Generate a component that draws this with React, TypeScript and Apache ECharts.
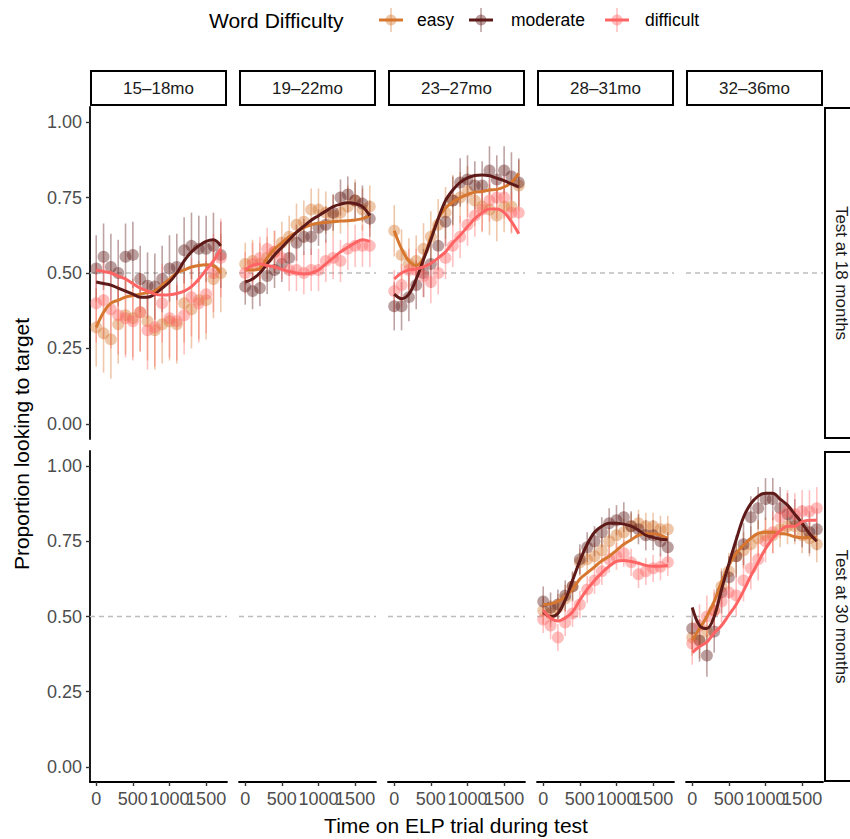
import React, { useEffect, useRef } from 'react';
import * as echarts from 'echarts';

// ---------- data ----------
const TIMES = [0, 100, 200, 300, 400, 500, 600, 700, 800, 900, 1000, 1100, 1200, 1300, 1400, 1500, 1600, 1700];
const AGE_BINS = ['15–18mo', '19–22mo', '23–27mo', '28–31mo', '32–36mo'];
const TESTS = ['Test at 18 months', 'Test at 30 months'];
const DIFFICULTIES = ['easy', 'moderate', 'difficult'];
const Y_TICKS = [0, 0.25, 0.5, 0.75, 1];
const X_TICKS = [0, 500, 1000, 1500];
const CHANCE = 0.5;

// Test at 18 months, 15–18mo
const EASY_15_18 = [0.32, 0.30, 0.28, 0.33, 0.36, 0.35, 0.37, 0.34, 0.31, 0.33, 0.34, 0.33, 0.40, 0.38, 0.41, 0.41, 0.48, 0.50];
const MOD_15_18 = [0.515, 0.554, 0.52, 0.50, 0.554, 0.56, 0.48, 0.458, 0.455, 0.48, 0.515, 0.52, 0.575, 0.59, 0.58, 0.58, 0.59, 0.56];
const DIFF_15_18 = [0.40, 0.41, 0.38, 0.36, 0.35, 0.34, 0.37, 0.31, 0.32, 0.40, 0.35, 0.34, 0.36, 0.42, 0.40, 0.43, 0.50, 0.55];
const EASY_FIT_15_18 = [0.32, 0.37, 0.40, 0.41, 0.42, 0.425, 0.43, 0.435, 0.44, 0.46, 0.48, 0.50, 0.51, 0.52, 0.525, 0.527, 0.525, 0.50];
const MOD_FIT_15_18 = [0.47, 0.465, 0.46, 0.45, 0.44, 0.43, 0.42, 0.42, 0.43, 0.45, 0.47, 0.50, 0.54, 0.57, 0.59, 0.605, 0.61, 0.59];
const DIFF_FIT_15_18 = [0.51, 0.505, 0.50, 0.49, 0.48, 0.465, 0.45, 0.44, 0.43, 0.427, 0.428, 0.432, 0.44, 0.455, 0.48, 0.51, 0.54, 0.58];
const SE_15_18 = [0.13, 0.11, 0.13];

// Test at 18 months, 19–22mo
const EASY_19_22 = [0.53, 0.54, 0.53, 0.55, 0.57, 0.60, 0.62, 0.66, 0.67, 0.71, 0.71, 0.70, 0.69, 0.70, 0.72, 0.74, 0.71, 0.72];
const MOD_19_22 = [0.455, 0.44, 0.45, 0.49, 0.51, 0.53, 0.55, 0.60, 0.62, 0.62, 0.65, 0.66, 0.70, 0.75, 0.76, 0.74, 0.73, 0.68];
const DIFF_19_22 = [0.50, 0.53, 0.55, 0.58, 0.57, 0.55, 0.51, 0.51, 0.50, 0.51, 0.51, 0.54, 0.55, 0.54, 0.58, 0.59, 0.59, 0.59];
const EASY_FIT_19_22 = [0.51, 0.51, 0.515, 0.55, 0.58, 0.60, 0.62, 0.635, 0.65, 0.66, 0.665, 0.668, 0.67, 0.672, 0.673, 0.676, 0.68, 0.69];
const MOD_FIT_19_22 = [0.47, 0.48, 0.50, 0.53, 0.56, 0.585, 0.61, 0.635, 0.655, 0.675, 0.69, 0.705, 0.72, 0.728, 0.733, 0.73, 0.72, 0.69];
const DIFF_FIT_19_22 = [0.51, 0.525, 0.53, 0.525, 0.52, 0.512, 0.505, 0.50, 0.497, 0.50, 0.51, 0.53, 0.55, 0.57, 0.585, 0.60, 0.61, 0.605];
const SE_19_22 = [0.07, 0.06, 0.07];

// Test at 18 months, 23–27mo
const EASY_23_27 = [0.64, 0.56, 0.53, 0.54, 0.58, 0.62, 0.66, 0.70, 0.74, 0.75, 0.77, 0.74, 0.72, 0.71, 0.69, 0.72, 0.72, 0.79];
const MOD_23_27 = [0.39, 0.39, 0.42, 0.46, 0.50, 0.53, 0.59, 0.67, 0.74, 0.80, 0.81, 0.79, 0.79, 0.84, 0.81, 0.84, 0.82, 0.80];
const DIFF_23_27 = [0.44, 0.46, 0.51, 0.51, 0.49, 0.47, 0.50, 0.55, 0.59, 0.62, 0.66, 0.69, 0.71, 0.74, 0.75, 0.75, 0.70, 0.70];
const EASY_FIT_23_27 = [0.64, 0.58, 0.54, 0.525, 0.55, 0.62, 0.68, 0.715, 0.735, 0.75, 0.76, 0.768, 0.77, 0.775, 0.777, 0.785, 0.80, 0.83];
const MOD_FIT_23_27 = [0.43, 0.415, 0.43, 0.48, 0.545, 0.61, 0.68, 0.74, 0.775, 0.80, 0.815, 0.823, 0.825, 0.822, 0.814, 0.806, 0.795, 0.785];
const DIFF_FIT_23_27 = [0.48, 0.50, 0.51, 0.513, 0.52, 0.532, 0.55, 0.57, 0.60, 0.625, 0.653, 0.68, 0.70, 0.712, 0.712, 0.70, 0.67, 0.63];
const SE_23_27 = [0.085, 0.08, 0.07];

// Test at 30 months, 28–31mo
const EASY_28_31 = [0.52, 0.51, 0.53, 0.56, 0.60, 0.68, 0.69, 0.70, 0.72, 0.75, 0.77, 0.78, 0.80, 0.81, 0.80, 0.80, 0.79, 0.79];
const MOD_28_31 = [0.55, 0.53, 0.54, 0.57, 0.60, 0.69, 0.73, 0.75, 0.78, 0.81, 0.82, 0.83, 0.80, 0.79, 0.77, 0.77, 0.75, 0.73];
const DIFF_28_31 = [0.49, 0.47, 0.43, 0.48, 0.51, 0.54, 0.59, 0.62, 0.65, 0.69, 0.70, 0.71, 0.68, 0.64, 0.65, 0.66, 0.665, 0.68];
const EASY_FIT_28_31 = [0.54, 0.542, 0.55, 0.565, 0.59, 0.625, 0.645, 0.665, 0.685, 0.70, 0.72, 0.74, 0.755, 0.77, 0.775, 0.775, 0.77, 0.76];
const MOD_FIT_28_31 = [0.515, 0.50, 0.51, 0.555, 0.62, 0.685, 0.74, 0.78, 0.80, 0.81, 0.81, 0.807, 0.80, 0.787, 0.77, 0.763, 0.757, 0.755];
const DIFF_FIT_28_31 = [0.52, 0.495, 0.485, 0.495, 0.515, 0.555, 0.59, 0.62, 0.645, 0.667, 0.683, 0.686, 0.683, 0.677, 0.67, 0.667, 0.667, 0.67];
const SE_28_31 = [0.045, 0.05, 0.045];

// Test at 30 months, 32–36mo
const EASY_32_36 = [0.43, 0.42, 0.45, 0.52, 0.60, 0.65, 0.70, 0.72, 0.74, 0.76, 0.77, 0.77, 0.79, 0.80, 0.80, 0.77, 0.76, 0.74];
const MOD_32_36 = [0.46, 0.42, 0.37, 0.45, 0.58, 0.63, 0.70, 0.74, 0.83, 0.86, 0.89, 0.89, 0.86, 0.84, 0.82, 0.80, 0.78, 0.79];
const DIFF_32_36 = [0.41, 0.47, 0.50, 0.52, 0.55, 0.58, 0.57, 0.62, 0.66, 0.69, 0.75, 0.78, 0.83, 0.85, 0.84, 0.85, 0.85, 0.86];
const EASY_FIT_32_36 = [0.42, 0.46, 0.50, 0.55, 0.615, 0.67, 0.71, 0.737, 0.76, 0.776, 0.78, 0.78, 0.776, 0.773, 0.765, 0.762, 0.762, 0.765];
const MOD_FIT_32_36 = [0.53, 0.47, 0.46, 0.50, 0.59, 0.675, 0.755, 0.83, 0.875, 0.90, 0.91, 0.91, 0.89, 0.87, 0.84, 0.81, 0.776, 0.75];
const DIFF_FIT_32_36 = [0.38, 0.40, 0.415, 0.445, 0.47, 0.505, 0.54, 0.585, 0.635, 0.68, 0.725, 0.76, 0.785, 0.80, 0.80, 0.815, 0.82, 0.82];
const SE_32_36 = [0.06, 0.07, 0.07];

const PANELS = [
  { row: 0, col: 0, points: [EASY_15_18, MOD_15_18, DIFF_15_18], fits: [EASY_FIT_15_18, MOD_FIT_15_18, DIFF_FIT_15_18], se: SE_15_18 },
  { row: 0, col: 1, points: [EASY_19_22, MOD_19_22, DIFF_19_22], fits: [EASY_FIT_19_22, MOD_FIT_19_22, DIFF_FIT_19_22], se: SE_19_22 },
  { row: 0, col: 2, points: [EASY_23_27, MOD_23_27, DIFF_23_27], fits: [EASY_FIT_23_27, MOD_FIT_23_27, DIFF_FIT_23_27], se: SE_23_27 },
  { row: 1, col: 3, points: [EASY_28_31, MOD_28_31, DIFF_28_31], fits: [EASY_FIT_28_31, MOD_FIT_28_31, DIFF_FIT_28_31], se: SE_28_31 },
  { row: 1, col: 4, points: [EASY_32_36, MOD_32_36, DIFF_32_36], fits: [EASY_FIT_32_36, MOD_FIT_32_36, DIFF_FIT_32_36], se: SE_32_36 },
];

// ---------- style / layout ----------
const COLORS = ['#D6762F', '#5E1A18', '#FF6464'];
const FONT = '"Liberation Sans", Arial, Helvetica, sans-serif';
const X_MIN = -85;
const X_MAX = 1785;
const Y_MIN = -0.05;
const Y_MAX = 1.05;
const GRID_LEFT0 = 90;
const COL_STEP = 149;
const GRID_W = 137;
const ROW_TOPS = [107, 451];
const ROW_H = [332, 331];

export default function App() {
  const ref = useRef<HTMLDivElement>(null);

  useEffect(() => {
    const chart = echarts.init(ref.current!, null, { renderer: 'svg' });
    const grids: any[] = [];
    const xAxes: any[] = [];
    const yAxes: any[] = [];
    const series: any[] = [];

    for (let r = 0; r < 2; r++) {
      for (let c = 0; c < 5; c++) {
        const gi = r * 5 + c;
        const bottomRow = r === 1;
        const firstCol = c === 0;
        grids.push({ left: GRID_LEFT0 + c * COL_STEP, top: ROW_TOPS[r], width: GRID_W, height: ROW_H[r], containLabel: false });
        xAxes.push({
          type: 'value', gridIndex: gi, min: X_MIN, max: X_MAX,
          axisLine: { show: bottomRow, onZero: false, lineStyle: { color: '#000', width: 1.8 } },
          axisTick: { show: bottomRow, length: 4, customValues: X_TICKS, lineStyle: { color: '#333', width: 1.4 } },
          axisLabel: { show: false },
          splitLine: { show: false },
        });
        yAxes.push({
          type: 'value', gridIndex: gi, min: Y_MIN, max: Y_MAX,
          axisLine: { show: firstCol, onZero: false, lineStyle: { color: '#000', width: 1.8 } },
          axisTick: { show: firstCol, length: 4, customValues: Y_TICKS, lineStyle: { color: '#333', width: 1.4 } },
          axisLabel: { show: firstCol, customValues: Y_TICKS, color: '#4D4D4D', fontSize: 18, margin: 8, fontFamily: FONT, formatter: (v: number) => v.toFixed(2) },
          splitLine: { show: false },
        });
        series.push({
          type: 'line', xAxisIndex: gi, yAxisIndex: gi, silent: true, z: 1,
          data: [[X_MIN, CHANCE], [X_MAX, CHANCE]], symbol: 'none',
          lineStyle: { color: '#BDBDBD', width: 1.3, type: [5, 4] },
        });
      }
    }

    PANELS.forEach((p) => {
      const gi = p.row * 5 + p.col;
      p.points.forEach((vals, k) => {
        const color = COLORS[k];
        const se = p.se[k];
        series.push({
          type: 'custom', xAxisIndex: gi, yAxisIndex: gi, z: 2, silent: true,
          data: TIMES.map((t, i) => [t, vals[i], vals[i] - se, vals[i] + se]),
          encode: { x: 0, y: 1 },
          renderItem: (params: any, api: any) => {
            const t = api.value(0);
            const a = api.coord([t, api.value(2)]);
            const b = api.coord([t, api.value(3)]);
            return {
              type: 'line',
              shape: { x1: a[0], y1: a[1], x2: b[0], y2: b[1] },
              style: { stroke: color, lineWidth: 1.6, opacity: 0.4 },
            };
          },
        });
        series.push({
          type: 'scatter', xAxisIndex: gi, yAxisIndex: gi, z: 2, silent: true,
          data: TIMES.map((t, i) => [t, vals[i]]),
          symbol: 'circle', symbolSize: 12,
          itemStyle: { color, opacity: 0.42 },
        });
      });
      p.fits.forEach((vals, k) => {
        series.push({
          type: 'line', xAxisIndex: gi, yAxisIndex: gi, z: 3, silent: true,
          data: TIMES.map((t, i) => [t, vals[i]]),
          symbol: 'none', smooth: 0.35,
          lineStyle: { color: COLORS[k], width: 3 },
        });
      });
    });

    chart.setOption({
      animation: false,
      backgroundColor: '#fff',
      grid: grids,
      xAxis: xAxes,
      yAxis: yAxes,
      series,
    });

    const graphics: any[] = [];
    // x tick labels placed through the axes' own scales
    for (let c = 0; c < 5; c++) {
      const gi = 5 + c;
      const yPix = chart.convertToPixel({ yAxisIndex: gi } as any, Y_MIN) as number;
      X_TICKS.forEach((v) => {
        const xPix = chart.convertToPixel({ xAxisIndex: gi } as any, v) as number;
        graphics.push({ type: 'text', x: xPix, y: yPix + 8, style: { text: String(v), fill: '#4D4D4D', font: `18px ${FONT}`, textAlign: 'center', textVerticalAlign: 'top' } });
      });
    }
    AGE_BINS.forEach((lab, c) => {
      const x = GRID_LEFT0 + c * COL_STEP;
      graphics.push({ type: 'rect', shape: { x: x + 1, y: 71, width: GRID_W - 2, height: 34 }, style: { fill: '#fff', stroke: '#000', lineWidth: 2 } });
      graphics.push({ type: 'text', x: x + GRID_W / 2, y: 88, style: { text: lab, fill: '#1A1A1A', font: `17px ${FONT}`, textAlign: 'center', textVerticalAlign: 'middle' } });
    });
    TESTS.forEach((lab, r) => {
      graphics.push({ type: 'rect', shape: { x: 825, y: ROW_TOPS[r] + 1, width: 40, height: ROW_H[r] - 2 }, style: { fill: '#fff', stroke: '#000', lineWidth: 2 } });
      graphics.push({ type: 'text', x: 841, y: ROW_TOPS[r] + ROW_H[r] / 2, rotation: -Math.PI / 2, style: { text: lab, fill: '#1A1A1A', font: `17px ${FONT}`, textAlign: 'center', textVerticalAlign: 'middle' } });
    });
    graphics.push({ type: 'text', x: 21, y: 444, rotation: Math.PI / 2, style: { text: 'Proportion looking to target', fill: '#000', font: `21px ${FONT}`, textAlign: 'center', textVerticalAlign: 'middle' } });
    graphics.push({ type: 'text', x: 456, y: 825, style: { text: 'Time on ELP trial during test', fill: '#000', font: `21px ${FONT}`, textAlign: 'center', textVerticalAlign: 'middle' } });
    graphics.push({ type: 'text', x: 209, y: 20, style: { text: 'Word Difficulty', fill: '#000', font: `21px ${FONT}`, textAlign: 'left', textVerticalAlign: 'middle' } });
    const keyX = [391, 481, 617];
    const labelX = [417, 511, 645];
    DIFFICULTIES.forEach((d, k) => {
      const cx = keyX[k];
      graphics.push({ type: 'line', shape: { x1: cx, y1: 8, x2: cx, y2: 32 }, style: { stroke: COLORS[k], lineWidth: 1.6, opacity: 0.4 } });
      graphics.push({ type: 'circle', shape: { cx, cy: 20, r: 5.5 }, style: { fill: COLORS[k], opacity: 0.42 } });
      graphics.push({ type: 'line', shape: { x1: cx - 12, y1: 20, x2: cx + 12, y2: 20 }, style: { stroke: COLORS[k], lineWidth: 3 } });
      graphics.push({ type: 'text', x: labelX[k], y: 20, style: { text: d, fill: '#000', font: `17.5px ${FONT}`, textAlign: 'left', textVerticalAlign: 'middle' } });
    });

    chart.setOption({ graphic: graphics });
    return () => chart.dispose();
  }, []);

  return <div ref={ref} style={{ position: 'fixed', left: 0, top: 0, width: 850, height: 839 }} />;
}
